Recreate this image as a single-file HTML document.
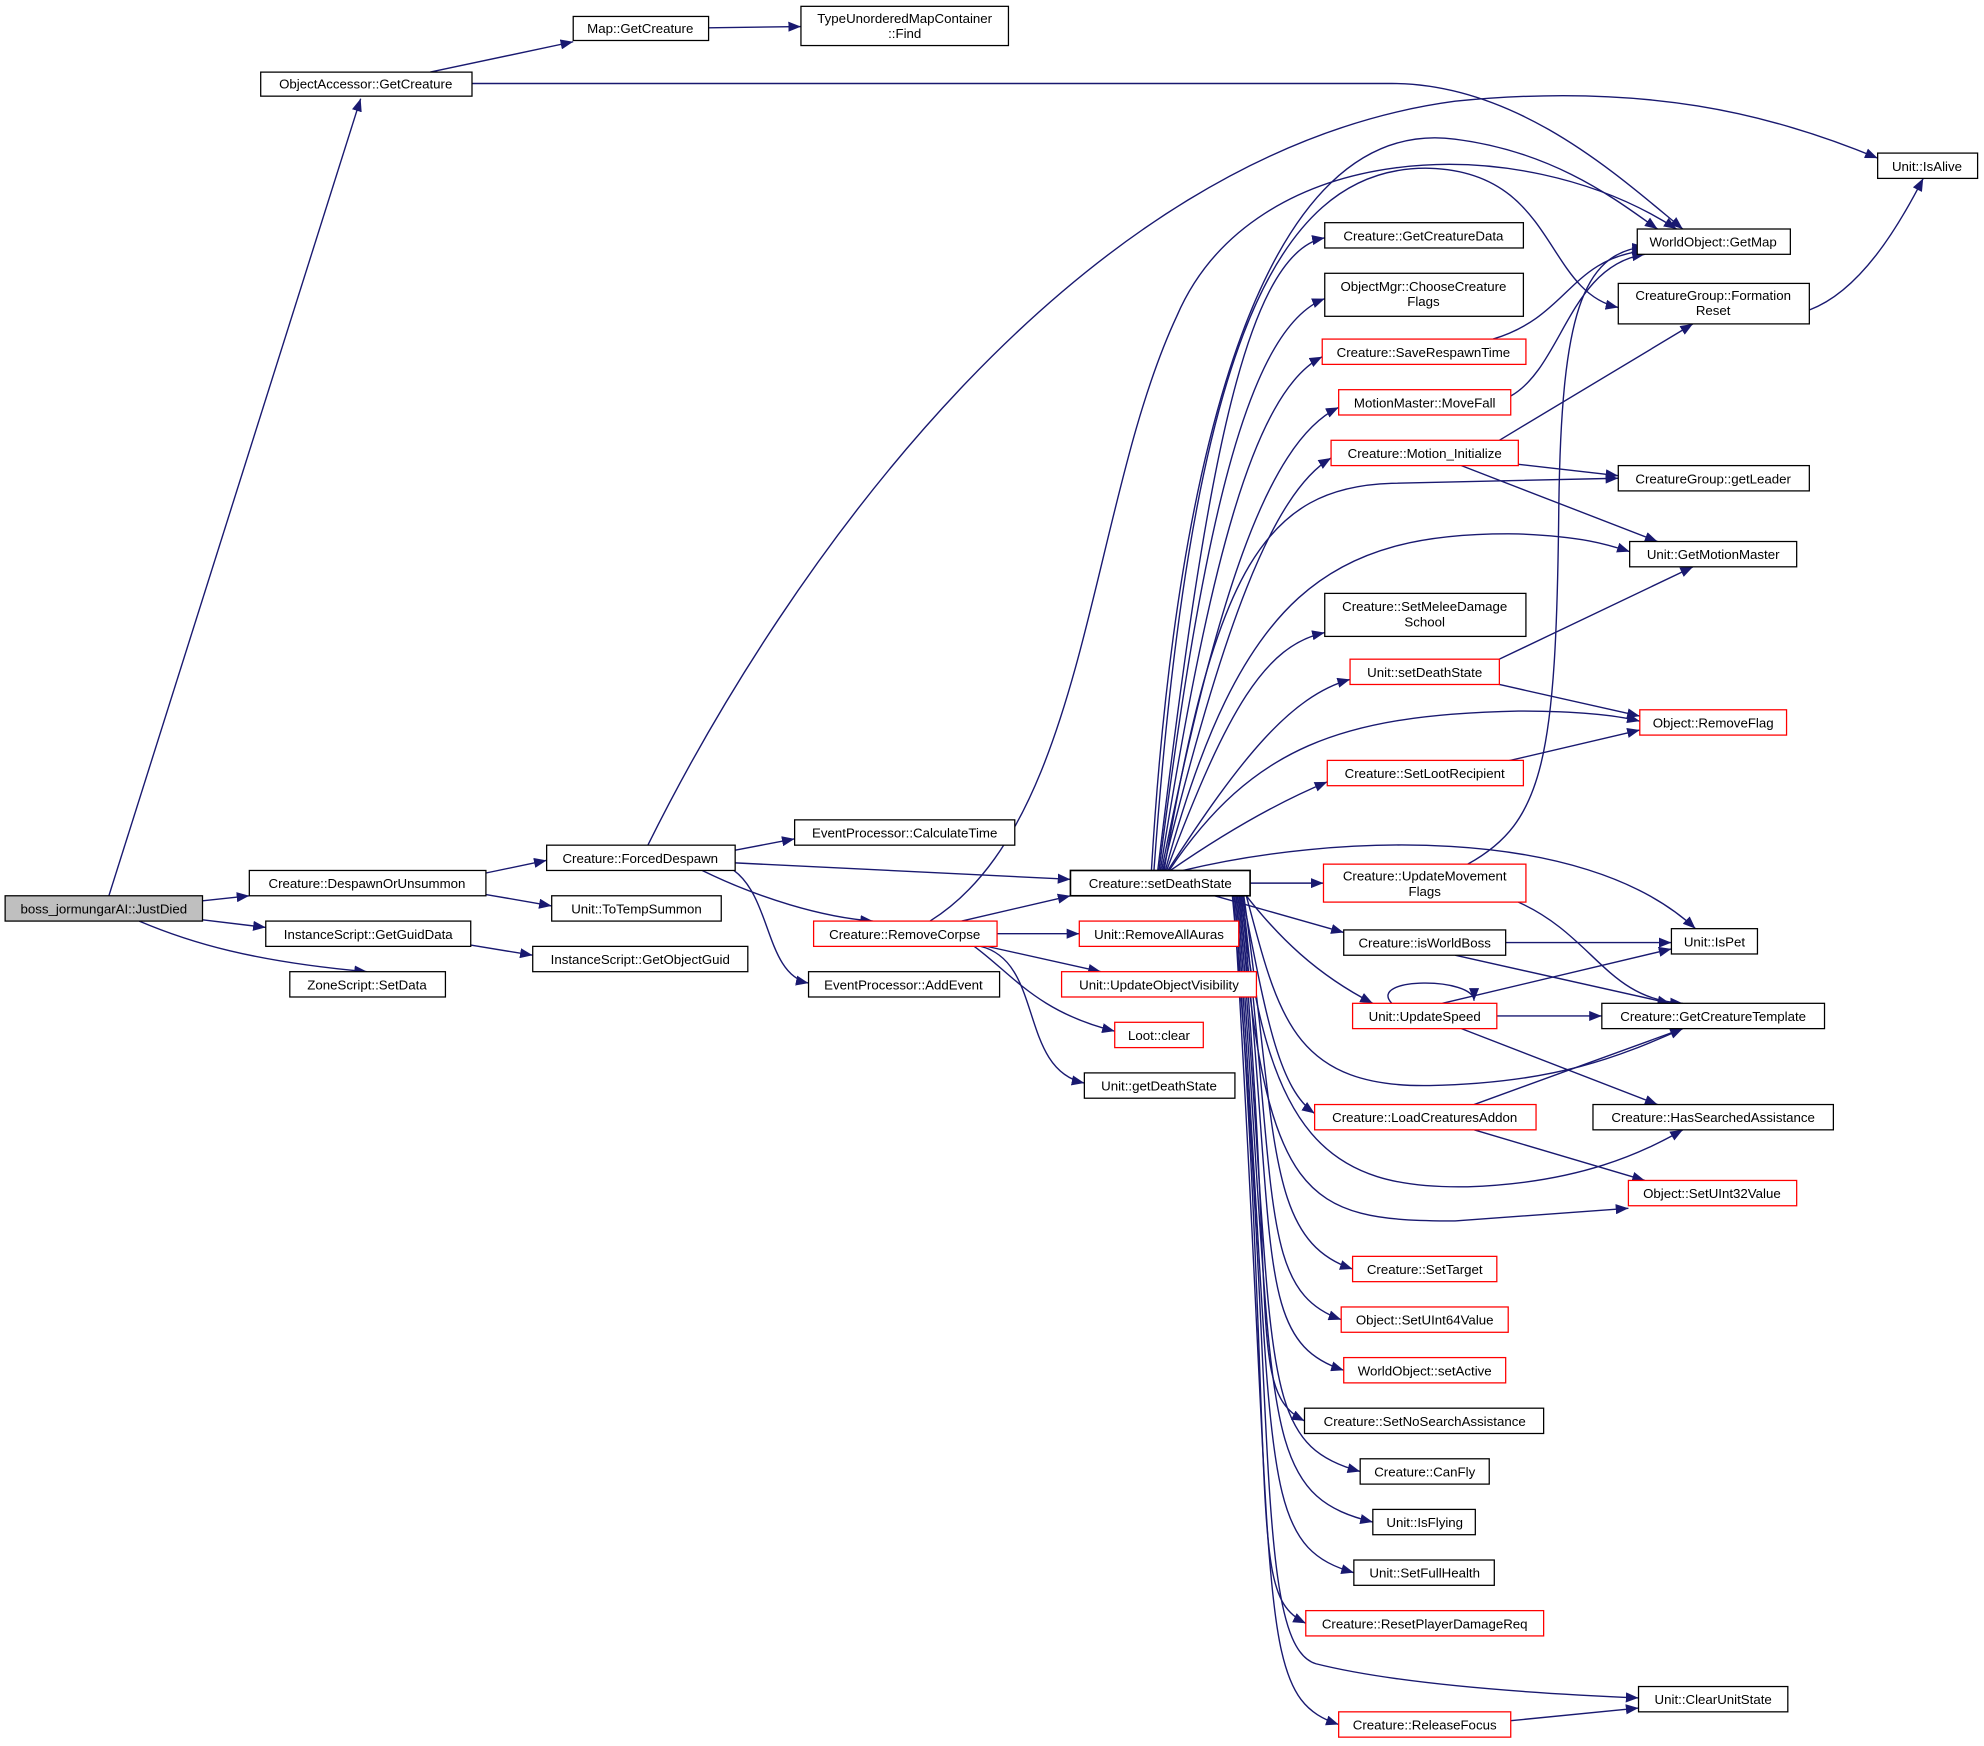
<!DOCTYPE html>
<html><head><meta charset="utf-8"><style>
html,body{margin:0;padding:0;background:#fff;}
svg{display:block;}
text{font-family:"Liberation Sans","DejaVu Sans",sans-serif;font-size:10.5px;fill:#000;text-anchor:middle;}
.e{fill:none;stroke:#191970;stroke-width:1.1;marker-end:url(#a);}
.n{fill:#fff;stroke:#000;stroke-width:1;}
.r{fill:#fff;stroke:#ff0000;stroke-width:1;}
</style></head><body>
<svg width="1984" height="1746" viewBox="0 0 1568 1380" xmlns="http://www.w3.org/2000/svg">
<defs><marker id="a" viewBox="0 0 10 8" refX="10" refY="4" markerWidth="10" markerHeight="8" markerUnits="userSpaceOnUse" orient="auto"><path d="M0,0 L10,4 L0,8 z" fill="#191970"/></marker></defs>
<g>
<path class="e" d="M86,708 L285,78"/>
<path class="e" d="M160,712 L197,708"/>
<path class="e" d="M160,727 L210,733"/>
<path class="e" d="M110,728 C150,745 200,760 290,768"/>
<path class="e" d="M340,57 L453,33"/>
<path class="e" d="M373,66 L1100,66 C1200,66 1280,140 1330,181"/>
<path class="e" d="M560,22 L633,21"/>
<path class="e" d="M384,690 L432,680"/>
<path class="e" d="M384,707 L436,716"/>
<path class="e" d="M372,747 L421,755"/>
<path class="e" d="M512,668 C620,450 850,120 1150,80 C1300,65 1400,90 1484,125"/>
<path class="e" d="M581,672 L628,663"/>
<path class="e" d="M581,682 L846,695"/>
<path class="e" d="M555,688 C600,710 650,725 690,728"/>
<path class="e" d="M580,688 C610,710 605,770 639,777"/>
<path class="e" d="M760,728 L846,708"/>
<path class="e" d="M735,728 C860,650 860,400 930,250 C990,110 1200,100 1325,181"/>
<path class="e" d="M788,738 L853,738"/>
<path class="e" d="M780,748 L870,768"/>
<path class="e" d="M770,748 C800,770 820,800 881,815"/>
<path class="e" d="M775,748 C825,760 805,845 857,856"/>
<path class="e" d="M915,688 C950,400 980,200 1047,188"/>
<path class="e" d="M916,688 C950,420 985,260 1047,236"/>
<path class="e" d="M917,688 C955,450 990,310 1045,282"/>
<path class="e" d="M918,688 C960,480 1000,350 1058,322"/>
<path class="e" d="M919,688 C965,500 1005,390 1052,362"/>
<path class="e" d="M920,688 C960,450 1000,385 1100,382 L1279,378"/>
<path class="e" d="M921,688 C980,470 1050,420 1200,422 C1250,424 1270,430 1288,436"/>
<path class="e" d="M922,688 C970,560 1000,510 1047,500"/>
<path class="e" d="M923,688 C980,600 1020,550 1067,537"/>
<path class="e" d="M924,688 C990,590 1060,565 1200,562 C1250,562 1280,566 1296,570"/>
<path class="e" d="M925,688 C980,650 1020,630 1049,618"/>
<path class="e" d="M912,688 C940,300 1000,130 1130,133 C1230,136 1220,230 1279,243"/>
<path class="e" d="M910,688 C930,350 1000,90 1150,110 C1230,120 1280,160 1310,181"/>
<path class="e" d="M988,698 L1046,698"/>
<path class="e" d="M960,708 L1062,737"/>
<path class="e" d="M935,688 C1050,660 1250,650 1340,734"/>
<path class="e" d="M985,708 C1010,740 1040,770 1085,793"/>
<path class="e" d="M985,708 C1010,800 1020,860 1130,858 C1230,856 1280,835 1330,813"/>
<path class="e" d="M982,708 C1000,800 1010,860 1039,880"/>
<path class="e" d="M981,708 C1000,900 1050,940 1160,938 C1250,935 1300,910 1330,893"/>
<path class="e" d="M980,708 C1000,950 1030,965 1150,965 L1287,955"/>
<path class="e" d="M983,708 C1010,900 1000,980 1069,1003"/>
<path class="e" d="M982,708 C1010,950 995,1020 1060,1043"/>
<path class="e" d="M981,708 C1010,990 990,1060 1062,1083"/>
<path class="e" d="M980,708 C1010,1040 985,1100 1031,1123"/>
<path class="e" d="M979,708 C1010,1080 990,1140 1075,1163"/>
<path class="e" d="M978,708 C1010,1120 990,1180 1085,1203"/>
<path class="e" d="M977,708 C1010,1160 990,1220 1070,1243"/>
<path class="e" d="M976,708 C1010,1200 985,1260 1032,1283"/>
<path class="e" d="M975,708 C1010,1280 990,1340 1058,1363"/>
<path class="e" d="M974,708 C1010,1100 990,1300 1040,1315 C1100,1330 1200,1338 1295,1342"/>
<path class="e" d="M1180,268 C1240,250 1240,205 1300,198"/>
<path class="e" d="M1194,313 C1235,290 1240,210 1300,201"/>
<path class="e" d="M1185,348 L1338,256"/>
<path class="e" d="M1200,367 L1279,376"/>
<path class="e" d="M1155,368 L1310,428"/>
<path class="e" d="M1430,245 C1470,230 1500,180 1520,141"/>
<path class="e" d="M1185,521 L1338,448"/>
<path class="e" d="M1185,541 L1296,566"/>
<path class="e" d="M1185,603 L1296,577"/>
<path class="e" d="M1160,683 C1220,650 1230,600 1232,400 C1234,250 1250,200 1300,195"/>
<path class="e" d="M1200,713 C1260,740 1270,790 1330,793"/>
<path class="e" d="M1190,745 L1321,745"/>
<path class="e" d="M1150,755 L1320,793"/>
<path class="e" d="M1140,793 L1321,750"/>
<path class="e" d="M1183,803 L1266,803"/>
<path class="e" d="M1155,813 L1310,873"/>
<path class="e" d="M1100,793 C1080,772 1165,772 1165,791"/>
<path class="e" d="M1165,873 L1330,813"/>
<path class="e" d="M1165,893 L1300,933"/>
<path class="e" d="M1194,1360 L1295,1350"/>
</g>
<g>
<rect x="4" y="708" width="156" height="20" fill="#bfbfbf" stroke="#000"/><text x="82" y="722">boss_jormungarAI::JustDied</text>
<rect class="n" x="206" y="57" width="167" height="19"/><text x="289" y="70">ObjectAccessor::GetCreature</text>
<rect class="n" x="453" y="13" width="107" height="19"/><text x="506" y="26">Map::GetCreature</text>
<rect class="n" x="633" y="5" width="164" height="31"/><text x="715" y="18">TypeUnorderedMapContainer</text><text x="715" y="30">::Find</text>
<rect class="n" x="197" y="688" width="187" height="20"/><text x="290" y="702">Creature::DespawnOrUnsummon</text>
<rect class="n" x="210" y="728" width="162" height="20"/><text x="291" y="742">InstanceScript::GetGuidData</text>
<rect class="n" x="229" y="768" width="123" height="20"/><text x="290" y="782">ZoneScript::SetData</text>
<rect class="n" x="432" y="668" width="149" height="20"/><text x="506" y="682">Creature::ForcedDespawn</text>
<rect class="n" x="436" y="708" width="134" height="20"/><text x="503" y="722">Unit::ToTempSummon</text>
<rect class="n" x="421" y="748" width="170" height="20"/><text x="506" y="762">InstanceScript::GetObjectGuid</text>
<rect class="n" x="628" y="648" width="174" height="20"/><text x="715" y="662">EventProcessor::CalculateTime</text>
<rect class="n" x="639" y="768" width="151" height="20"/><text x="714" y="782">EventProcessor::AddEvent</text>
<rect x="846" y="688" width="142" height="20" fill="#fff" stroke="#000" stroke-width="1.3"/><text x="917" y="702">Creature::setDeathState</text>
<rect class="r" x="643" y="728" width="145" height="20"/><text x="715" y="742">Creature::RemoveCorpse</text>
<rect class="r" x="853" y="728" width="126" height="20"/><text x="916" y="742">Unit::RemoveAllAuras</text>
<rect class="r" x="839" y="768" width="154" height="20"/><text x="916" y="782">Unit::UpdateObjectVisibility</text>
<rect class="r" x="881" y="808" width="70" height="20"/><text x="916" y="822">Loot::clear</text>
<rect class="n" x="857" y="848" width="119" height="20"/><text x="916" y="862">Unit::getDeathState</text>
<rect class="n" x="1047" y="176" width="157" height="20"/><text x="1125" y="190">Creature::GetCreatureData</text>
<rect class="n" x="1047" y="216" width="157" height="34"/><text x="1125" y="230">ObjectMgr::ChooseCreature</text><text x="1125" y="242">Flags</text>
<rect class="r" x="1045" y="268" width="161" height="20"/><text x="1125" y="282">Creature::SaveRespawnTime</text>
<rect class="r" x="1058" y="308" width="136" height="20"/><text x="1126" y="322">MotionMaster::MoveFall</text>
<rect class="r" x="1052" y="348" width="148" height="20"/><text x="1126" y="362">Creature::Motion_Initialize</text>
<rect class="n" x="1047" y="469" width="159" height="34"/><text x="1126" y="483">Creature::SetMeleeDamage</text><text x="1126" y="495">School</text>
<rect class="r" x="1067" y="521" width="118" height="20"/><text x="1126" y="535">Unit::setDeathState</text>
<rect class="r" x="1049" y="601" width="155" height="20"/><text x="1126" y="615">Creature::SetLootRecipient</text>
<rect class="r" x="1046" y="683" width="160" height="30"/><text x="1126" y="696">Creature::UpdateMovement</text><text x="1126" y="708">Flags</text>
<rect class="n" x="1062" y="735" width="128" height="20"/><text x="1126" y="749">Creature::isWorldBoss</text>
<rect class="r" x="1069" y="793" width="114" height="20"/><text x="1126" y="807">Unit::UpdateSpeed</text>
<rect class="r" x="1039" y="873" width="175" height="20"/><text x="1126" y="887">Creature::LoadCreaturesAddon</text>
<rect class="r" x="1069" y="993" width="114" height="20"/><text x="1126" y="1007">Creature::SetTarget</text>
<rect class="r" x="1060" y="1033" width="132" height="20"/><text x="1126" y="1047">Object::SetUInt64Value</text>
<rect class="r" x="1062" y="1073" width="128" height="20"/><text x="1126" y="1087">WorldObject::setActive</text>
<rect class="n" x="1031" y="1113" width="189" height="20"/><text x="1126" y="1127">Creature::SetNoSearchAssistance</text>
<rect class="n" x="1075" y="1153" width="102" height="20"/><text x="1126" y="1167">Creature::CanFly</text>
<rect class="n" x="1085" y="1193" width="81" height="20"/><text x="1126" y="1207">Unit::IsFlying</text>
<rect class="n" x="1070" y="1233" width="111" height="20"/><text x="1126" y="1247">Unit::SetFullHealth</text>
<rect class="r" x="1032" y="1273" width="188" height="20"/><text x="1126" y="1287">Creature::ResetPlayerDamageReq</text>
<rect class="r" x="1058" y="1353" width="136" height="20"/><text x="1126" y="1367">Creature::ReleaseFocus</text>
<rect class="n" x="1484" y="121" width="79" height="20"/><text x="1523" y="135">Unit::IsAlive</text>
<rect class="n" x="1294" y="181" width="121" height="20"/><text x="1354" y="195">WorldObject::GetMap</text>
<rect class="n" x="1279" y="224" width="151" height="32"/><text x="1354" y="237">CreatureGroup::Formation</text><text x="1354" y="249">Reset</text>
<rect class="n" x="1279" y="368" width="151" height="20"/><text x="1354" y="382">CreatureGroup::getLeader</text>
<rect class="n" x="1288" y="428" width="132" height="20"/><text x="1354" y="442">Unit::GetMotionMaster</text>
<rect class="r" x="1296" y="561" width="116" height="20"/><text x="1354" y="575">Object::RemoveFlag</text>
<rect class="n" x="1321" y="734" width="68" height="20"/><text x="1355" y="748">Unit::IsPet</text>
<rect class="n" x="1266" y="793" width="176" height="20"/><text x="1354" y="807">Creature::GetCreatureTemplate</text>
<rect class="n" x="1259" y="873" width="190" height="20"/><text x="1354" y="887">Creature::HasSearchedAssistance</text>
<rect class="r" x="1287" y="933" width="133" height="20"/><text x="1353" y="947">Object::SetUInt32Value</text>
<rect class="n" x="1295" y="1333" width="118" height="20"/><text x="1354" y="1347">Unit::ClearUnitState</text>
</g>
</svg>
</body></html>
